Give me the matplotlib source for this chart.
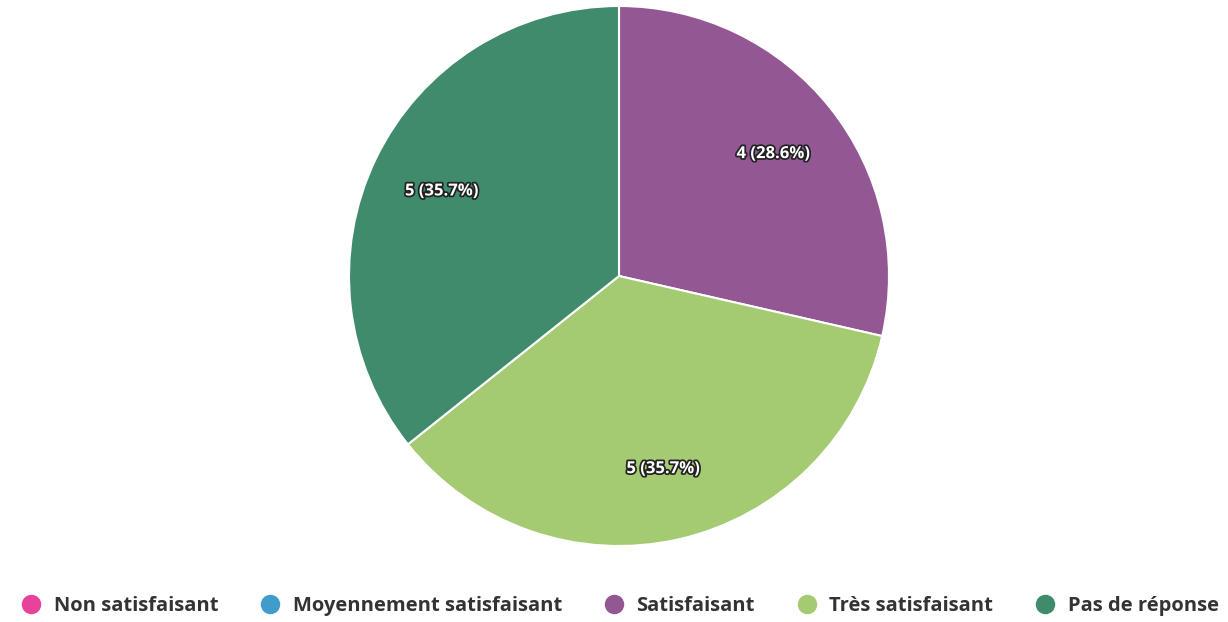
import matplotlib
matplotlib.use('Agg')
import matplotlib.pyplot as plt
import matplotlib.patheffects as pe
from matplotlib.lines import Line2D

# Données du graphique
categories = ['Non satisfaisant', 'Moyennement satisfaisant', 'Satisfaisant',
              'Très satisfaisant', 'Pas de réponse']
valeurs = [0, 0, 4, 5, 5]
couleurs = ['#e8439b', '#419ccb', '#935893', '#a5cb72', '#3f8b6b']

plt.rcParams['font.family'] = ['Open Sans', 'DejaVu Sans']

fig = plt.figure(figsize=(12.28, 6.22), dpi=100)
ax = fig.add_axes([(619 - 270) / 1228, 76 / 622, 540 / 1228, 540 / 622])

# seules les parts non nulles sont dessinées
parts = [(v, c) for v, c in zip(valeurs, couleurs) if v > 0]
total = sum(valeurs)
vals = [p[0] for p in parts]
cols = [p[1] for p in parts]

wedges, texts, autotexts = ax.pie(
    vals, colors=cols, startangle=90, counterclock=False, radius=1,
    autopct=lambda pct: f"{round(pct * total / 100):d} ({pct:.1f}%)",
    pctdistance=0.73,
    wedgeprops=dict(edgecolor='white', linewidth=1.5),
    textprops=dict(color='white', fontsize=12, fontweight='bold'))
for t in autotexts:
    t.set_path_effects([pe.withStroke(linewidth=2.5, foreground='#222222')])
ax.set_xlim(-1, 1)
ax.set_ylim(-1, 1)

# Légende
handles = [Line2D([0], [0], marker='o', linestyle='', markersize=13,
                  markerfacecolor=c, markeredgecolor=c) for c in couleurs]
leg = fig.legend(handles, categories, loc='center', bbox_to_anchor=(620 / 1228, 1 - 606 / 622),
                 ncol=5, frameon=False, handletextpad=0.6, columnspacing=2.1,
                 handlelength=1.0, borderaxespad=0, borderpad=0,
                 prop=dict(size=14.5, weight='bold'))
for t in leg.get_texts():
    t.set_color('#333333')

fig.savefig('out.png', dpi=100)
